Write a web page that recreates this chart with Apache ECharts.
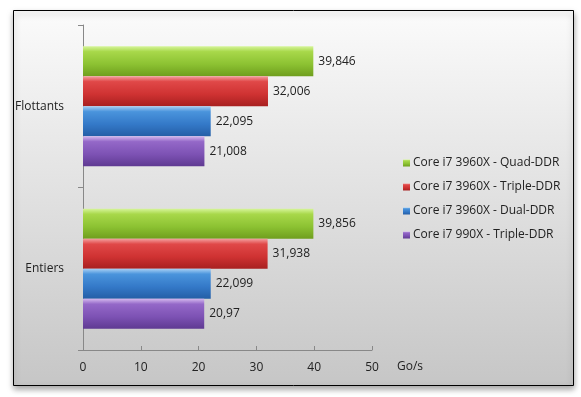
<!DOCTYPE html>
<html><head><meta charset="utf-8">
<script src="https://cdn.jsdelivr.net/npm/echarts@6/dist/echarts.min.js"></script>
<style>html,body{margin:0;padding:0;background:#fff}#c{width:581px;height:397px}</style>
</head><body><div id="c"></div>
<script>
var categories = ['Entiers', 'Flottants'];
var seriesNames = ['Core i7 3960X - Quad-DDR', 'Core i7 3960X - Triple-DDR', 'Core i7 3960X - Dual-DDR', 'Core i7 990X - Triple-DDR'];
var quadDDR = [39.856, 39.846];
var tripleDDR = [31.938, 32.006];
var dualDDR = [22.099, 22.095];
var i7990X = [20.97, 21.008];
var xTicks = [0, 10, 20, 30, 40, 50];

var palettes = [
  ['#d6f59a', '#a8d84a', '#8cc232', '#6f9e1e'],
  ['#f4a0a0', '#e04848', '#cf3232', '#a82020'],
  ['#a8d0f4', '#4a94dc', '#3479c8', '#245ea6'],
  ['#d4b8ee', '#9468c8', '#7d52b4', '#5f3a92']
];
function grad(p) {
  return new echarts.graphic.LinearGradient(0, 0, 0, 1, [
    {offset: 0, color: p[0]}, {offset: 0.18, color: p[1]},
    {offset: 0.6, color: p[2]}, {offset: 1, color: p[3]}
  ]);
}
var dataSets = [quadDDR, tripleDDR, dualDDR, i7990X];
var font = '"Open Sans", "DejaVu Sans", sans-serif';
var series = dataSets.map(function (d, i) {
  return {
    name: seriesNames[i], type: 'bar', data: d, barWidth: 30, barGap: '0%',
    itemStyle: {color: grad(palettes[i])},
    label: {show: true, position: 'right', distance: 5, color: '#222', fontFamily: font, fontSize: 12,
      formatter: function (p) { return String(p.value).replace('.', ','); }}
  };
});
var chart = echarts.init(document.getElementById('c'), null, {renderer: 'canvas'});
chart.setOption({
  animation: false,
  graphic: [{
    type: 'rect', z: -10, shape: {x: 13.5, y: 10.5, width: 560, height: 375},
    style: {fill: new echarts.graphic.LinearGradient(0, 0, 0, 1, [{offset: 0, color: '#fbfbfb'}, {offset: 1, color: '#c6c6c6'}]),
      stroke: '#000', lineWidth: 1, shadowColor: 'rgba(0,0,0,0.35)', shadowBlur: 6, shadowOffsetY: 3}
  }],
  legend: {
    orient: 'vertical', left: 398, top: 152, itemWidth: 7, itemHeight: 7, itemGap: 12,
    icon: 'rect', textStyle: {fontFamily: font, fontSize: 12, color: '#222', padding: [0, 0, 0, -2]},
    data: seriesNames
  },
  grid: {left: 83, right: 209, top: 25, bottom: 47, containLabel: false},
  xAxis: {
    type: 'value', min: 0, max: 50, interval: 10,
    name: 'Go/s', nameLocation: 'end', nameGap: 25,
    nameTextStyle: {fontFamily: font, fontSize: 12, color: '#222', verticalAlign: 'top', padding: [11, 0, 0, 0]},
    axisLine: {show: true, lineStyle: {color: '#888'}},
    axisTick: {show: true, inside: true, length: 4, lineStyle: {color: '#888'}},
    axisLabel: {fontFamily: font, fontSize: 12, color: '#222', margin: 12,
      formatter: function (v) { return xTicks.indexOf(v) >= 0 ? String(v) : ''; }},
    splitLine: {show: false}
  },
  yAxis: {
    type: 'category', data: categories,
    axisLine: {show: true, lineStyle: {color: '#888'}},
    axisTick: {show: true, length: 5, lineStyle: {color: '#888'}},
    axisLabel: {fontFamily: font, fontSize: 12, color: '#222', margin: 19}
  },
  series: series
});
</script></body></html>
